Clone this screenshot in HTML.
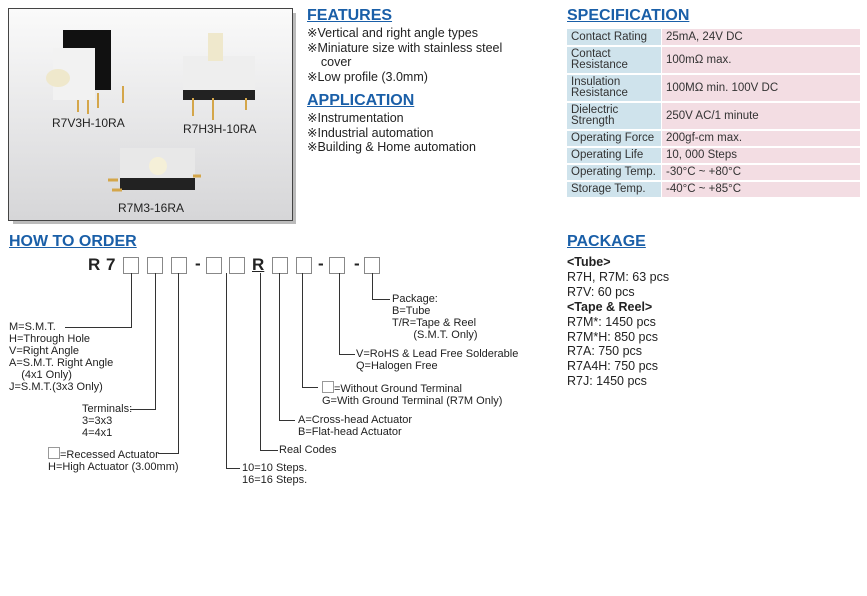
<!DOCTYPE html>
<html><head><meta charset="utf-8"><style>
body{margin:0;width:867px;height:596px;background:#fff;position:relative;font-family:"Liberation Sans",sans-serif;color:#222;overflow:hidden}
.a{position:absolute;white-space:nowrap}
.h{position:absolute;font-weight:bold;font-size:16px;color:#1a5fa8;text-decoration:underline;white-space:nowrap}
.t{font-size:12.5px;line-height:14.7px}
.s{font-size:11px;line-height:12px}
table{position:absolute;left:567px;top:27px;border-collapse:collapse;font-size:11.5px;line-height:11px;color:#333}
td{padding:0 4px;border:2px solid #fff;border-left:none;border-right:1px solid #fff}
td.l{background:#cfe3ec;width:86px}
td.v{background:#f3dde3;width:190px}
.b{position:absolute;top:257px;width:14px;height:15px;border:1px solid #888;background:#fff}
.ln{position:absolute;background:#333}
.sq{display:inline-block;width:10px;height:10px;border:1px solid #999;vertical-align:-1px}
</style></head><body>
<div class="a" style="left:13px;top:13px;width:283px;height:211px;background:#bbb"></div>
<div class="a" style="left:8px;top:8px;width:283px;height:211px;border:1px solid #444;background:linear-gradient(#fafafa,#d6d6d8)"></div>
<svg class="a" style="left:8px;top:8px" width="285" height="213">
<rect x="55" y="22" width="48" height="60" fill="#111"/><rect x="45" y="40" width="42" height="52" fill="#f2f2f2"/>
<ellipse cx="50" cy="70" rx="12" ry="9" fill="#efe8cc"/>
<g stroke="#d4a64a" stroke-width="2"><line x1="70" y1="92" x2="70" y2="104"/><line x1="80" y1="92" x2="80" y2="106"/><line x1="90" y1="85" x2="90" y2="100"/><line x1="115" y1="78" x2="115" y2="95"/></g>
<rect x="175" y="48" width="72" height="38" fill="#eee"/><rect x="175" y="82" width="72" height="10" fill="#222"/><rect x="200" y="25" width="15" height="28" fill="#efe8cc"/>
<g stroke="#d4a64a" stroke-width="2"><line x1="185" y1="90" x2="185" y2="108"/><line x1="205" y1="90" x2="205" y2="112"/><line x1="238" y1="90" x2="238" y2="102"/></g>
<rect x="112" y="140" width="75" height="38" fill="#e8e8e8"/><rect x="112" y="170" width="75" height="12" fill="#222"/><circle cx="150" cy="158" r="9" fill="#f5f0d8"/>
<g stroke="#d4a64a" stroke-width="3"><line x1="100" y1="172" x2="110" y2="172"/><line x1="104" y1="182" x2="114" y2="182"/><line x1="185" y1="168" x2="193" y2="168"/></g>
</svg>
<div class="a s" style="left:52px;top:117px;font-size:12px">R7V3H-10RA</div>
<div class="a s" style="left:183px;top:123px;font-size:12px">R7H3H-10RA</div>
<div class="a s" style="left:118px;top:202px;font-size:12px">R7M3-16RA</div>

<div class="h" style="left:307px;top:7px">FEATURES</div>
<div class="a t" style="left:307px;top:26px">※Vertical and right angle types<br>※Miniature size with stainless steel<br>&nbsp;&nbsp;&nbsp;&nbsp;cover<br>※Low profile (3.0mm)</div>
<div class="h" style="left:307px;top:92px">APPLICATION</div>
<div class="a t" style="left:307px;top:111px">※Instrumentation<br>※Industrial automation<br>※Building &amp; Home automation</div>

<div class="h" style="left:567px;top:7px">SPECIFICATION</div>
<table>
<tr style="height:18px"><td class="l">Contact Rating</td><td class="v">25mA, 24V DC</td></tr>
<tr style="height:28px"><td class="l">Contact<br>Resistance</td><td class="v">100mΩ max.</td></tr>
<tr style="height:28px"><td class="l">Insulation<br>Resistance</td><td class="v">100MΩ min. 100V DC</td></tr>
<tr style="height:28px"><td class="l">Dielectric<br>Strength</td><td class="v">250V AC/1 minute</td></tr>
<tr style="height:17px"><td class="l">Operating Force</td><td class="v">200gf-cm max.</td></tr>
<tr style="height:17px"><td class="l">Operating Life</td><td class="v">10, 000 Steps</td></tr>
<tr style="height:17px"><td class="l">Operating Temp.</td><td class="v">-30°C ~ +80°C</td></tr>
<tr style="height:17px"><td class="l">Storage Temp.</td><td class="v">-40°C ~ +85°C</td></tr>
</table>

<div class="h" style="left:9px;top:233px">HOW TO ORDER</div>
<div class="h" style="left:567px;top:233px">PACKAGE</div>
<div class="a" style="left:567px;top:255px;font-size:12.5px;line-height:14.9px"><b>&lt;Tube&gt;</b><br>R7H, R7M: 63 pcs<br>R7V: 60 pcs<br><b>&lt;Tape &amp; Reel&gt;</b><br>R7M*: 1450 pcs<br>R7M*H: 850 pcs<br>R7A: 750 pcs<br>R7A4H: 750 pcs<br>R7J: 1450 pcs</div>

<div class="a" style="left:88px;top:255px;font-size:17px;font-weight:bold">R</div>
<div class="a" style="left:106px;top:255px;font-size:17px;font-weight:bold">7</div>
<div class="a" style="left:252px;top:255px;font-size:17px;font-weight:bold;text-decoration:underline">R</div>
<div class="a" style="left:195px;top:254px;font-size:17px;font-weight:bold">-</div>
<div class="a" style="left:318px;top:254px;font-size:17px;font-weight:bold">-</div>
<div class="a" style="left:354px;top:254px;font-size:17px;font-weight:bold">-</div>
<div class="b" style="left:123px"></div><div class="b" style="left:147px"></div><div class="b" style="left:171px"></div>
<div class="b" style="left:206px"></div><div class="b" style="left:229px"></div>
<div class="b" style="left:272px"></div><div class="b" style="left:296px"></div>
<div class="b" style="left:329px"></div><div class="b" style="left:364px"></div>

<div class="ln" style="left:131px;top:273px;width:1px;height:54px"></div><div class="ln" style="left:65px;top:327px;width:67px;height:1px"></div>
<div class="ln" style="left:155px;top:273px;width:1px;height:136px"></div><div class="ln" style="left:130px;top:409px;width:26px;height:1px"></div>
<div class="ln" style="left:178px;top:273px;width:1px;height:180px"></div><div class="ln" style="left:158px;top:453px;width:21px;height:1px"></div>
<div class="ln" style="left:226px;top:273px;width:1px;height:195px"></div><div class="ln" style="left:226px;top:468px;width:14px;height:1px"></div>
<div class="ln" style="left:260px;top:273px;width:1px;height:177px"></div><div class="ln" style="left:260px;top:450px;width:18px;height:1px"></div>
<div class="ln" style="left:279px;top:273px;width:1px;height:147px"></div><div class="ln" style="left:279px;top:420px;width:16px;height:1px"></div>
<div class="ln" style="left:302px;top:273px;width:1px;height:114px"></div><div class="ln" style="left:302px;top:387px;width:16px;height:1px"></div>
<div class="ln" style="left:339px;top:273px;width:1px;height:81px"></div><div class="ln" style="left:339px;top:354px;width:16px;height:1px"></div>
<div class="ln" style="left:372px;top:273px;width:1px;height:26px"></div><div class="ln" style="left:372px;top:299px;width:18px;height:1px"></div>

<div class="a s" style="left:9px;top:321px">M=S.M.T.<br>H=Through Hole<br>V=Right Angle<br>A=S.M.T. Right Angle<br>&nbsp;&nbsp;&nbsp;&nbsp;(4x1 Only)<br>J=S.M.T.(3x3 Only)</div>
<div class="a s" style="left:82px;top:403px">Terminals:<br>3=3x3<br>4=4x1</div>
<div class="a s" style="left:48px;top:447px"><span class="sq"></span>=Recessed Actuator<br>H=High Actuator (3.00mm)</div>
<div class="a s" style="left:242px;top:462px">10=10 Steps.<br>16=16 Steps.</div>
<div class="a s" style="left:279px;top:444px">Real Codes</div>
<div class="a s" style="left:298px;top:414px">A=Cross-head Actuator<br>B=Flat-head Actuator</div>
<div class="a s" style="left:322px;top:381px"><span class="sq"></span>=Without Ground Terminal<br>G=With Ground Terminal (R7M Only)</div>
<div class="a s" style="left:356px;top:348px">V=RoHS &amp; Lead Free Solderable<br>Q=Halogen Free</div>
<div class="a s" style="left:392px;top:293px">Package:<br>B=Tube<br>T/R=Tape &amp; Reel<br>&nbsp;&nbsp;&nbsp;&nbsp;&nbsp;&nbsp;&nbsp;(S.M.T. Only)</div>
</body></html>
